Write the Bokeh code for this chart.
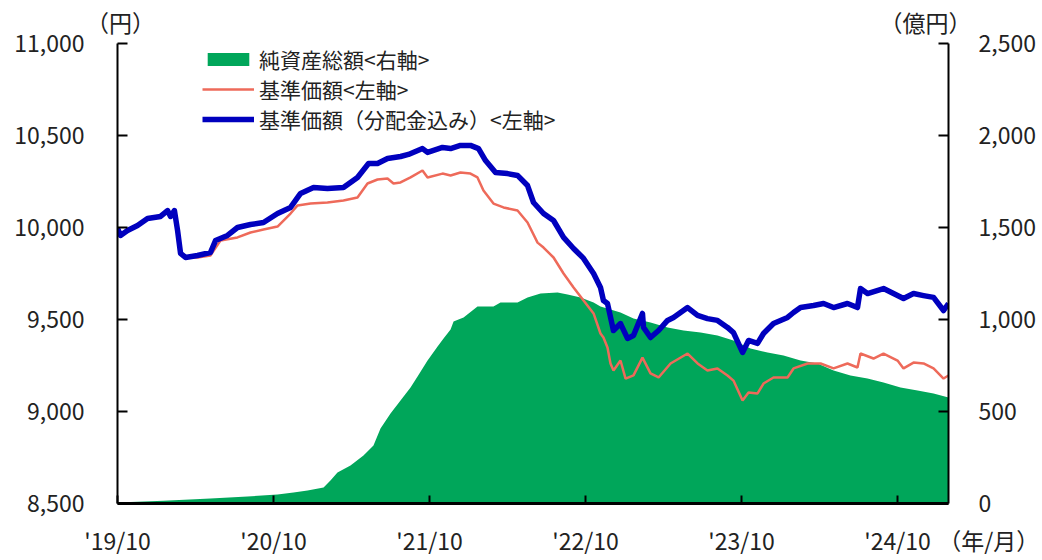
from bokeh.plotting import figure
from bokeh.models import (Range1d, LinearAxis, FixedTicker, NumeralTickFormatter,
                          Legend, LegendItem)
from bokeh.embed import file_html
from bokeh.resources import INLINE

FONT = "Noto Sans CJK JP"
GREEN = "#00A65A"
RED = "#EE6A5A"
BLUE = "#0000BE"
TXT = "#222222"

# x = months since 2019/10
x_ticks = [0, 12, 24, 36, 48, 60]
x_tick_labels = ["'19/10", "'20/10", "'21/10", "'22/10", "'23/10", "'24/10"]
left_ticks = [8500, 9000, 9500, 10000, 10500, 11000]
right_ticks = [0, 500, 1000, 1500, 2000, 2500]
unit_left, unit_right, unit_x = "（円）", "（億円）", "（年/月）"
unit_left_pos, unit_right_pos = 0.23, 62.15

# 基準価額（分配金込み） (円)
blue_m = [0.0, 0.23, 0.77, 1.54, 2.31, 3.31, 3.85, 4.08, 4.38, 4.62, 4.85, 5.23, 6.15, 7.15, 7.54,
          8.46, 9.23, 10.23, 11.23, 12.31, 13.31, 14.08, 15.08, 16.15, 17.38, 18.46, 19.31, 20.0,
          20.77, 21.77, 22.38, 23.46, 23.85, 25.0, 25.62, 26.38, 27.15, 27.77, 28.31, 29.08, 30.0,
          30.77, 31.54, 32.0, 32.77, 33.54, 34.31, 35.08, 35.85, 36.62, 37.15, 37.38, 37.69, 38.15,
          38.69, 39.23, 39.69, 40.38, 40.46, 41.0, 41.62, 42.31, 42.77, 43.85, 44.62, 45.38, 46.15,
          46.92, 47.38, 48.08, 48.54, 49.23, 49.69, 50.46, 51.54, 52.0, 52.54, 53.54, 54.31, 55.08,
          56.15, 56.92, 57.15, 57.69, 58.92, 59.69, 60.46, 61.23, 62.0, 62.77, 63.54, 63.92]
blue_v = [9995, 9957, 9984, 10011, 10049, 10060, 10092, 10060, 10092, 9984, 9859, 9837, 9848, 9864,
          9929, 9957, 10000, 10016, 10027, 10076, 10109, 10185, 10217, 10212, 10217, 10272, 10348,
          10348, 10375, 10386, 10397, 10429, 10408, 10435, 10429, 10446, 10446, 10429, 10364, 10299,
          10293, 10283, 10228, 10136, 10076, 10038, 9946, 9886, 9832, 9750, 9674, 9603, 9587, 9440,
          9478, 9397, 9413, 9533, 9457, 9402, 9440, 9495, 9511, 9565, 9522, 9505, 9495, 9457, 9429,
          9321, 9386, 9370, 9424, 9478, 9511, 9538, 9565, 9576, 9587, 9565, 9587, 9565, 9668, 9641,
          9668, 9641, 9614, 9641, 9630, 9620, 9549, 9587]

# 基準価額 (円)
red_m = [0.0, 0.23, 0.77, 1.54, 2.31, 3.31, 3.85, 4.08, 4.38, 4.62, 4.85, 5.23, 6.15, 7.15, 7.92,
         9.23, 10.23, 11.23, 12.31, 13.31, 13.85, 14.85, 16.15, 17.38, 18.46, 19.23, 20.0, 20.77,
         21.23, 21.77, 22.54, 23.46, 23.85, 25.0, 25.62, 26.38, 27.15, 27.69, 28.15, 28.92, 29.69,
         30.77, 31.54, 32.31, 32.77, 33.54, 34.31, 35.08, 35.85, 36.62, 37.15, 37.38, 37.69, 37.92,
         38.15, 38.69, 39.08, 39.69, 40.38, 41.0, 41.62, 42.54, 43.85, 44.62, 45.38, 46.15, 46.92,
         47.38, 48.08, 48.54, 49.23, 49.69, 50.46, 51.54, 52.0, 53.08, 54.08, 55.08, 56.15, 56.92,
         57.15, 58.15, 58.92, 60.0, 60.46, 61.23, 62.0, 62.77, 63.54, 63.92]
red_v = [9995, 9957, 9984, 10011, 10049, 10060, 10092, 10060, 10092, 9984, 9859, 9837, 9837, 9848,
         9929, 9946, 9973, 9989, 10005, 10076, 10120, 10130, 10136, 10147, 10163, 10239, 10261,
         10266, 10239, 10245, 10272, 10310, 10272, 10293, 10283, 10299, 10293, 10272, 10201, 10130,
         10109, 10092, 10027, 9918, 9891, 9837, 9750, 9674, 9603, 9533, 9424, 9402, 9348, 9261,
         9223, 9277, 9179, 9196, 9293, 9207, 9185, 9261, 9315, 9261, 9223, 9234, 9196, 9168, 9060,
         9103, 9098, 9152, 9185, 9185, 9234, 9261, 9261, 9234, 9261, 9239, 9315, 9288, 9315, 9277,
         9234, 9266, 9261, 9234, 9179, 9196]

# 純資産総額 (億円)
aum_m = [0, 3.54, 7.15, 10.0, 12.31, 13.54, 14.62, 15.85, 16.38, 16.92, 17.92, 18.92, 19.69, 20.23,
         21.0, 21.77, 22.54, 23.08, 23.85, 24.62, 25.08, 25.62, 25.85, 26.23, 26.62, 27.69, 28.92,
         29.46, 30.77, 31.54, 32.54, 33.85, 34.62, 35.62, 36.62, 37.15, 38.69, 39.69, 41.0, 42.31,
         43.54, 44.85, 46.15, 47.38, 48.69, 50.0, 51.23, 52.54, 53.85, 55.08, 56.38, 57.69, 58.92,
         60.23, 61.54, 62.77, 63.92]
aum_v = [5, 15, 27, 38, 49, 60, 71, 87, 125, 168, 206, 261, 315, 408, 489, 560, 630, 690, 777, 853,
         897, 945, 989, 1000, 1011, 1071, 1071, 1092, 1092, 1120, 1141, 1147, 1136, 1120, 1092, 1071,
         1038, 1005, 984, 957, 940, 929, 913, 886, 842, 821, 804, 777, 761, 723, 696, 679, 658, 630,
         614, 598, 576]

x_end = aum_m[-1]

p = figure(width=1042, height=560, output_backend="svg", toolbar_location=None,
           x_axis_location=None,
           x_range=Range1d(0, x_end), y_range=Range1d(left_ticks[0], left_ticks[-1]),
           min_border_left=117, min_border_right=94, min_border_top=43, min_border_bottom=57)
p.extra_y_ranges = {"aum": Range1d(right_ticks[0], right_ticks[-1])}
p.xgrid.visible = False
p.ygrid.visible = False
p.outline_line_color = None
p.background_fill_color = "white"

area = p.varea(x=aum_m, y1=[0] * len(aum_m), y2=aum_v, y_range_name="aum", fill_color=GREEN)
red = p.line(red_m, red_v, line_color=RED, line_width=2.5)
blue = p.line(blue_m, blue_v, line_color=BLUE, line_width=5.5, line_join="round")


def style(ax):
    ax.major_label_text_font = FONT
    ax.major_label_text_font_size = "23px"
    ax.major_label_text_color = TXT
    ax.axis_line_color = "black"
    ax.axis_line_width = 2
    ax.major_tick_line_color = "black"
    ax.major_tick_line_width = 2
    ax.major_tick_in = 10
    ax.major_tick_out = 0
    ax.minor_tick_line_color = None


# bottom axis: line + inward ticks only
xa_line = LinearAxis(ticker=FixedTicker(ticks=x_ticks))
style(xa_line)
xa_line.axis_line_width = 3
xa_line.major_tick_in = 8
xa_line.major_label_text_color = None
# bottom axis labels; the unit label sits at the right end, padded with ideographic spaces
xa_lab = LinearAxis(ticker=FixedTicker(ticks=x_ticks + [x_end]))
style(xa_lab)
xa_lab.axis_line_color = None
xa_lab.major_tick_line_color = None
xa_lab.major_label_overrides = {**{t: l for t, l in zip(x_ticks, x_tick_labels)},
                                x_end: "\u3000\u3000\u3000\u3000" + unit_x}
xa_lab.major_label_standoff = 19
p.add_layout(xa_line, "below")
p.add_layout(xa_lab, "below")

# top: unit labels of the two y axes
xa_top = LinearAxis(ticker=FixedTicker(ticks=[unit_left_pos, unit_right_pos]))
style(xa_top)
xa_top.axis_line_color = None
xa_top.major_tick_line_color = None
xa_top.major_label_overrides = {unit_left_pos: unit_left, unit_right_pos: unit_right}
xa_top.major_label_standoff = 5
p.add_layout(xa_top, "above")

ya = p.yaxis[0]
style(ya)
ya.ticker = FixedTicker(ticks=left_ticks)
ya.formatter = NumeralTickFormatter(format="0,0")
ya.major_label_standoff = 33

right_axis = LinearAxis(y_range_name="aum", ticker=FixedTicker(ticks=right_ticks),
                        formatter=NumeralTickFormatter(format="0,0"))
style(right_axis)
right_axis.major_label_standoff = 30
p.add_layout(right_axis, "right")

legend = Legend(items=[LegendItem(label="純資産総額<右軸>", renderers=[area]),
                       LegendItem(label="基準価額<左軸>", renderers=[red]),
                       LegendItem(label="基準価額（分配金込み）<左軸>", renderers=[blue])],
                location=(85, 369), orientation="vertical",
                label_text_font=FONT, label_text_font_size="21px", label_text_color=TXT,
                glyph_width=52, glyph_height=16, label_height=29, spacing=0, padding=0,
                margin=0, label_standoff=5, border_line_color=None, background_fill_alpha=0)
p.add_layout(legend)

open("out.html", "w").write(file_html(p, INLINE))
